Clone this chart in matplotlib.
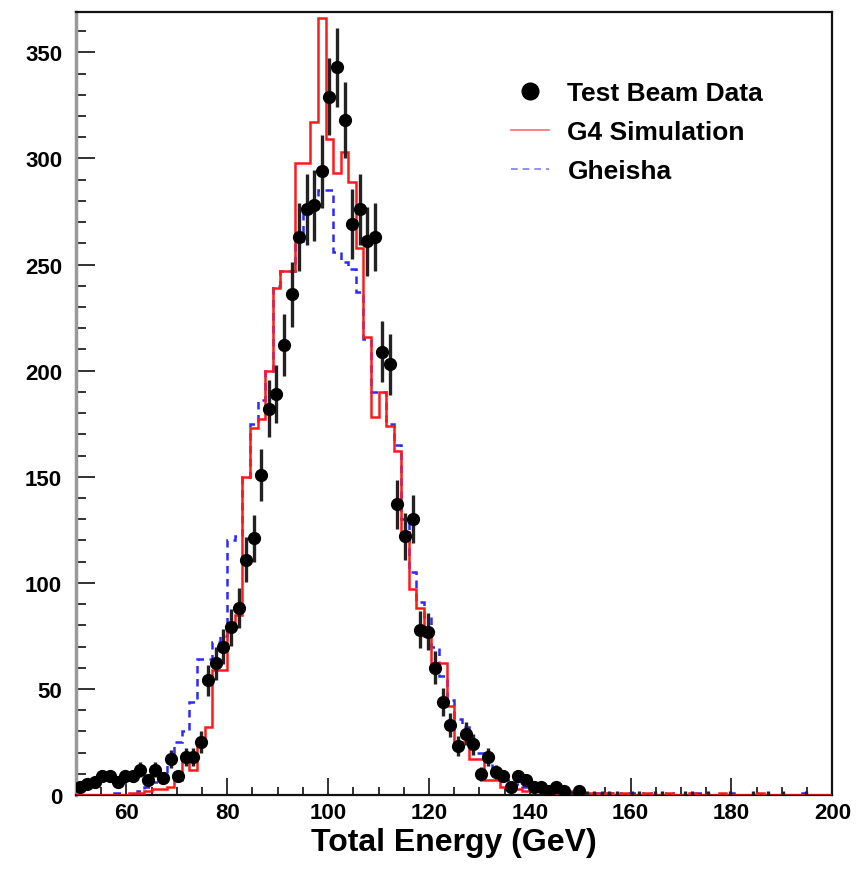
import numpy as np
import matplotlib
matplotlib.use("Agg")
import matplotlib.pyplot as plt
from matplotlib.ticker import MultipleLocator
from matplotlib.lines import Line2D

# 100 bins of 1.5 GeV from 50 to 200
e_lo, e_hi, nbins = 50, 200, 100

test_beam = [4, 5, 6, 9, 9, 6, 9, 9, 12, 7,
             12, 8, 17, 9, 18, 18, 25, 54, 62, 70,
             79, 88, 111, 121, 151, 182, 189, 212, 236, 263,
             276, 278, 294, 329, 343, 318, 269, 276, 261, 263,
             209, 203, 137, 122, 130, 78, 77, 60, 44, 33,
             23, 29, 24, 10, 18, 11, 9, 4, 9, 7,
             4, 4, 2, 4, 2, 1, 2, 1, 1, 1,
             1, 1, 0, 1, 1, 0, 1, 1, 0, 0,
             1, 1, 0, 1, 0, 0, 1, 0, 0, 1,
             0, 1, 0, 1, 0, 0, 1, 0, 0, 0]

g4_sim = [0, 0, 0, 0, 0, 0, 0, 1, 1, 2,
          3, 3, 4, 7, 18, 12, 25, 32, 59, 59,
          80, 85, 150, 173, 177, 200, 239, 247, 247, 298,
          298, 317, 366, 309, 293, 303, 289, 258, 216, 178,
          190, 174, 162, 124, 97, 88, 75, 62, 62, 42,
          25, 25, 17, 17, 7, 7, 4, 3, 3, 2,
          2, 2, 1, 1, 2, 2, 1, 1, 1, 0,
          1, 0, 1, 0, 0, 1, 0, 0, 1, 0,
          0, 1, 0, 0, 0, 1, 0, 0, 0, 0,
          1, 0, 0, 0, 0, 0, 0, 0, 0, 0]

gheisha = [0, 0, 0, 0, 0, 1, 0, 0, 2, 4,
           6, 9, 17, 25, 30, 44, 64, 64, 72, 75,
           120, 122, 150, 175, 186, 200, 240, 247, 247, 261,
           274, 280, 285, 285, 256, 251, 248, 237, 215, 190,
           190, 175, 165, 130, 105, 91, 84, 70, 56, 45,
           36, 32, 25, 20, 17, 13, 10, 7, 5, 4,
           3, 3, 2, 2, 1, 1, 1, 1, 1, 1,
           1, 1, 0, 1, 0, 1, 0, 0, 1, 0,
           0, 0, 1, 0, 0, 0, 1, 0, 0, 0,
           1, 0, 0, 0, 0, 0, 1, 0, 0, 0]

edges = np.linspace(e_lo, e_hi, nbins + 1)
centers = 0.5 * (edges[1:] + edges[:-1])
data = np.array(test_beam, dtype=float)
err = np.sqrt(data)

plt.rcParams['font.family'] = ['Liberation Sans', 'DejaVu Sans']
plt.rcParams['font.weight'] = 'bold'

fig = plt.figure(figsize=(8.57, 8.7), dpi=100)
ax = fig.add_axes([0.0887, 0.085, 0.8825, 0.9])

ax.stairs(gheisha, edges, color='#2a2aff', lw=1.8, ls=(0, (3, 2.2)), zorder=2)
ax.stairs(g4_sim, edges, color='#ff1a1a', lw=1.8, zorder=3)

has = data > 0
big = data >= 2
ax.errorbar(centers[has], data[has], yerr=err[has], fmt='none',
            ecolor='#222222', elinewidth=2.4, capsize=0, zorder=4)
ax.plot(centers[big], data[big], 'o', color='black', ms=8.5, zorder=5)

ax.set_xlim(e_lo, e_hi)
ax.set_ylim(0, 369)

ax.xaxis.set_major_locator(MultipleLocator(20))
ax.xaxis.set_minor_locator(MultipleLocator(5))
ax.yaxis.set_major_locator(MultipleLocator(50))
ax.yaxis.set_minor_locator(MultipleLocator(10))
ax.tick_params(axis='both', which='both', direction='in', top=False, right=False,
               labelsize=16, width=1.3, color='#222222')
ax.tick_params(axis='x', which='major', length=12, pad=5)
ax.tick_params(axis='x', which='minor', length=6)
ax.tick_params(axis='y', which='major', length=14, pad=10)
ax.tick_params(axis='y', which='minor', length=7)
ax.set_xticks([60, 80, 100, 120, 140, 160, 180, 200])
for lab in ax.get_xticklabels() + ax.get_yticklabels():
    lab.set_fontweight('bold')

for side in ['top', 'right', 'bottom']:
    ax.spines[side].set_linewidth(1.6)
    ax.spines[side].set_color('#111111')
ax.spines['left'].set_linewidth(2.5)
ax.spines['left'].set_color('#9a9a9a')

ax.set_xlabel('Total Energy (GeV)', fontsize=23, fontweight='bold', labelpad=3)

handles = [Line2D([], [], marker='o', color='black', ls='none', ms=12),
           Line2D([], [], color='#ff6b6b', lw=1.2),
           Line2D([], [], color='#7a7aff', lw=1.2, ls=(0, (4, 3)))]
ax.legend(handles, ['Test Beam Data', 'G4 Simulation', 'Gheisha'],
          loc='upper left', bbox_to_anchor=(0.544, 0.942), frameon=False,
          prop={'size': 19, 'weight': 'bold'}, handlelength=1.45,
          handletextpad=0.68, labelspacing=0.57)

fig.savefig('out.png', dpi=100)
